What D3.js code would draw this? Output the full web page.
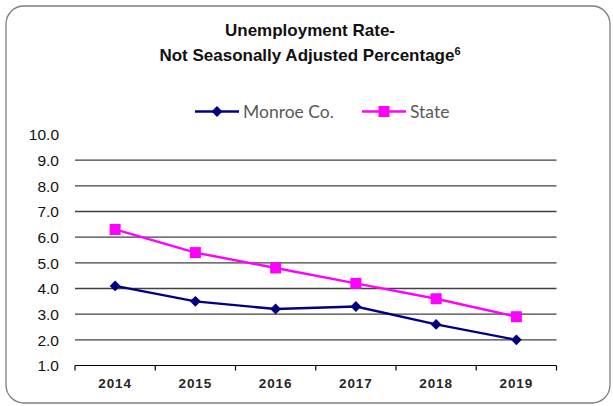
<!DOCTYPE html>
<html>
<head>
<meta charset="utf-8">
<script src="https://cdn.jsdelivr.net/npm/d3@7"></script>
<style>
  html, body { margin: 0; padding: 0; background: #fff; }
  svg { display: block; }
</style>
</head>
<body>
<svg id="chart" width="613" height="406"></svg>
<script>
// Annual unemployment rate, not seasonally adjusted (%)
const years = ["2014", "2015", "2016", "2017", "2018", "2019"];
const monroe = [4.1, 3.5, 3.2, 3.3, 2.6, 2.0];
const state = [6.3, 5.4, 4.8, 4.2, 3.6, 2.9];
const yTicks = [1, 2, 3, 4, 5, 6, 7, 8, 9, 10];

const series = [
  { name: "Monroe Co.", values: monroe, color: "#000080", marker: "diamond" },
  { name: "State", values: state, color: "#ff00ff", marker: "square" }
];

const svg = d3.select("#chart");

// Rounded chart-area frame
svg.append("rect")
  .attr("x", 6).attr("y", 6)
  .attr("width", 604).attr("height", 397)
  .attr("rx", 18).attr("ry", 18)
  .attr("fill", "#fff")
  .attr("stroke", "#7f7f7f")
  .attr("stroke-width", 1.3);

// Title
const title = svg.append("text")
  .attr("text-anchor", "middle")
  .attr("font-family", "Liberation Sans, Arial, sans-serif")
  .attr("font-weight", "bold")
  .attr("font-size", 17)
  .attr("fill", "#111");
title.append("tspan").attr("x", 310).attr("y", 36).text("Unemployment Rate-");
const l2 = title.append("tspan").attr("x", 310).attr("y", 61);
l2.append("tspan").text("Not Seasonally Adjusted Percentage");
l2.append("tspan").attr("font-size", 11).attr("dy", -6).text("6");

// Scales
const x = d3.scaleBand().domain(years).range([75, 556.5]);
const y = d3.scaleLinear().domain([1, 10]).range([365.5, 134.5]);

// Horizontal gridlines
svg.append("g")
  .selectAll("line")
  .data(yTicks.filter(d => d > 1 && d < 10))
  .join("line")
  .attr("x1", x.range()[0]).attr("x2", x.range()[1])
  .attr("y1", d => y(d)).attr("y2", d => y(d))
  .attr("stroke", "#404040")
  .attr("stroke-width", 1.4);

// Y axis labels
const yAxis = svg.append("g")
  .attr("transform", "translate(59,0)")
  .call(d3.axisLeft(y).tickValues(yTicks).tickFormat(d3.format(".1f")).tickSize(0).tickPadding(0));
yAxis.select(".domain").remove();
yAxis.selectAll("text")
  .attr("font-family", "Liberation Sans, Arial, sans-serif")
  .attr("font-size", 15.5)
  .attr("fill", "#111")
  .attr("dy", "0.35em");

// X axis with category-boundary ticks
const xAxisG = svg.append("g").attr("transform", `translate(0,${y(1)})`);
xAxisG.append("line")
  .attr("x1", x.range()[0]).attr("x2", x.range()[1])
  .attr("stroke", "#000").attr("stroke-width", 1.2);
const bounds = years.map(d => x(d)).concat([x.range()[1]]);
xAxisG.selectAll("line.tick")
  .data(bounds)
  .join("line")
  .attr("class", "tick")
  .attr("x1", d => d).attr("x2", d => d)
  .attr("y1", 0).attr("y2", 5)
  .attr("stroke", "#000").attr("stroke-width", 1.2);
xAxisG.selectAll("text")
  .data(years)
  .join("text")
  .attr("x", d => x(d) + x.bandwidth() / 2)
  .attr("y", 22.5)
  .attr("text-anchor", "middle")
  .attr("font-family", "Liberation Sans, Arial, sans-serif")
  .attr("font-weight", "bold")
  .attr("font-size", 13.5)
  .attr("letter-spacing", 0.9)
  .attr("fill", "#262626")
  .text(d => d);

const cx = d => x(d) + x.bandwidth() / 2;

function drawMarker(g, type, color, px, py) {
  if (type === "diamond") {
    g.append("path")
      .attr("d", d3.symbol(d3.symbolDiamond2, 75)())
      .attr("transform", `translate(${px},${py})`)
      .attr("fill", color);
  } else {
    g.append("rect")
      .attr("x", px - 5.5).attr("y", py - 5.5)
      .attr("width", 11).attr("height", 11)
      .attr("fill", color);
  }
}

// Lines and markers
series.forEach(s => {
  const g = svg.append("g");
  const pts = years.map((yr, i) => [cx(yr), y(s.values[i])]);
  g.append("path")
    .attr("d", d3.line()(pts))
    .attr("fill", "none")
    .attr("stroke", s.color)
    .attr("stroke-width", 2.4);
  pts.forEach(p => drawMarker(g, s.marker, s.color, p[0], p[1]));
});

// Legend
const legendItems = [
  { s: series[0], x0: 195 },
  { s: series[1], x0: 362 }
];
legendItems.forEach(({ s, x0 }) => {
  const g = svg.append("g");
  const ly = 111.5;
  g.append("line")
    .attr("x1", x0).attr("x2", x0 + 44)
    .attr("y1", ly).attr("y2", ly)
    .attr("stroke", s.color).attr("stroke-width", 2.4);
  drawMarker(g, s.marker, s.color, x0 + 22, ly);
  g.append("text")
    .attr("x", x0 + 48).attr("y", ly + 6)
    .attr("font-family", "Lato, Carlito, sans-serif")
    .attr("font-size", 17.5)
    .attr("fill", "#595959")
    .text(s.name);
});
</script>
</body>
</html>
